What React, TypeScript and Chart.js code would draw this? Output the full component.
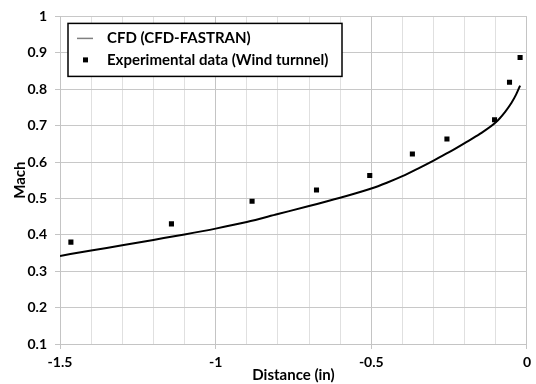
import React, { useEffect, useRef } from "react";
import { Chart, registerables } from "chart.js";

Chart.register(...registerables);

const cfdX = [-1.5, -1.4, -1.3, -1.2, -1.1, -1.0, -0.9, -0.8, -0.7, -0.6, -0.5, -0.45, -0.4, -0.35, -0.3, -0.25, -0.2, -0.15, -0.1, -0.07, -0.05, -0.035, -0.022];
const cfdY = [0.342, 0.357, 0.371, 0.386, 0.401, 0.417, 0.435, 0.457, 0.479, 0.502, 0.527, 0.543, 0.561, 0.582, 0.604, 0.627, 0.652, 0.678, 0.709, 0.738, 0.762, 0.785, 0.81];

const expX = [-1.465, -1.142, -0.883, -0.676, -0.505, -0.368, -0.257, -0.104, -0.056, -0.022];
const expY = [0.38, 0.43, 0.492, 0.523, 0.563, 0.622, 0.663, 0.716, 0.819, 0.887];

const seriesNames = ["CFD (CFD-FASTRAN)", "Experimental data (Wind turnnel)"];
const xTitle = "Distance (in)";
const yTitle = "Mach";

const FONT = "Lato, 'Open Sans', sans-serif";

const isMajorX = (v: number) => Math.abs(v * 2 - Math.round(v * 2)) < 1e-6;

const legendPlugin = {
  id: "boxLegend",
  afterDraw(chart: any) {
    const { ctx, chartArea } = chart;
    const x0 = chartArea.left + 8;
    const y0 = chartArea.top + 7;
    const w = 274;
    const h = 53;
    ctx.save();
    ctx.fillStyle = "#ffffff";
    ctx.fillRect(x0, y0, w, h);
    ctx.strokeStyle = "#000000";
    ctx.lineWidth = 1.5;
    ctx.strokeRect(x0, y0, w, h);
    ctx.strokeStyle = "#808080";
    ctx.lineWidth = 1.5;
    ctx.beginPath();
    ctx.moveTo(x0 + 9, y0 + 15);
    ctx.lineTo(x0 + 25, y0 + 15);
    ctx.stroke();
    ctx.fillStyle = "#000000";
    ctx.fillRect(x0 + 15, y0 + 34, 5, 5);
    ctx.font = `700 15px ${FONT}`;
    ctx.textBaseline = "middle";
    ctx.textAlign = "left";
    ctx.fillText(seriesNames[0], x0 + 39, y0 + 15);
    ctx.fillText(seriesNames[1], x0 + 39, y0 + 36.5);
    ctx.restore();
  },
};

export default function App() {
  const ref = useRef<HTMLCanvasElement | null>(null);
  useEffect(() => {
    document.body.style.margin = "0";
    const canvas = ref.current;
    if (!canvas) return;
    const chart = new Chart(canvas, {
      type: "scatter",
      data: {
        datasets: [
          {
            label: seriesNames[0],
            data: cfdX.map((x, i) => ({ x, y: cfdY[i] })),
            showLine: true,
            borderColor: "#000000",
            borderWidth: 2,
            pointRadius: 0,
            cubicInterpolationMode: "monotone",
            order: 2,
          },
          {
            label: seriesNames[1],
            data: expX.map((x, i) => ({ x, y: expY[i] })),
            showLine: false,
            pointStyle: "rect",
            pointRadius: 3.6,
            pointBorderWidth: 0,
            backgroundColor: "#000000",
            borderColor: "#000000",
            order: 1,
          },
        ],
      },
      options: {
        animation: false,
        responsive: false,
        maintainAspectRatio: false,
        layout: { padding: { left: 0, right: 7, top: 15, bottom: 0 } },
        plugins: {
          legend: { display: false },
          tooltip: { enabled: false },
        },
        scales: {
          x: {
            type: "linear",
            min: -1.5,
            max: 0,
            afterFit: (s: any) => {
              s.height = 40;
            },
            ticks: {
              stepSize: 0.1,
              autoSkip: false,
              maxRotation: 0,
              padding: 5,
              color: "#000000",
              font: { family: FONT, size: 14, weight: "700" },
              callback: (v: any) => {
                const n = Number(v);
                if (!isMajorX(n)) return "";
                const r = Math.round(n * 2) / 2;
                return r === 0 ? "0" : String(r);
              },
            },
            grid: {
              color: (c: any) => (c.tick && isMajorX(c.tick.value) ? "#c4c4c4" : "#e0e0e0"),
              tickColor: (c: any) => (c.tick && isMajorX(c.tick.value) ? "#c4c4c4" : "rgba(0,0,0,0)"),
              tickLength: 5,
              lineWidth: 1,
            },
            border: { color: "#c4c4c4", width: 1 },
            title: {
              display: true,
              text: xTitle,
              color: "#000000",
              font: { family: FONT, size: 15, weight: "700" },
              padding: { top: 0, bottom: 0 },
            },
          },
          y: {
            type: "linear",
            min: 0.1,
            max: 1,
            afterFit: (s: any) => {
              s.width = 60;
            },
            ticks: {
              stepSize: 0.1,
              autoSkip: false,
              padding: 8,
              color: "#000000",
              font: { family: FONT, size: 14, weight: "700" },
              callback: (v: any) => String(Number(Number(v).toFixed(1))),
            },
            grid: {
              color: "#c8c8c8",
              tickColor: "#c4c4c4",
              tickLength: 5,
              lineWidth: 1,
            },
            border: { color: "#c4c4c4", width: 1 },
            title: {
              display: true,
              text: yTitle,
              color: "#000000",
              font: { family: FONT, size: 15, weight: "700" },
              padding: { top: 11, bottom: 0 },
            },
          },
        },
      },
      plugins: [legendPlugin],
    });
    return () => chart.destroy();
  }, []);
  return (
    <div style={{ width: 536, height: 384 }}>
      <canvas ref={ref} width={536} height={384} style={{ display: "block" }} />
    </div>
  );
}
